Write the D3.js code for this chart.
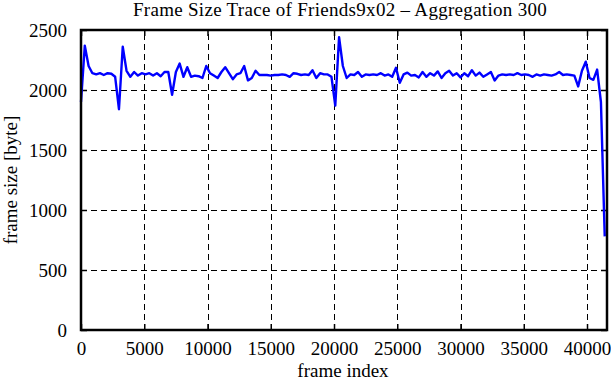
<!DOCTYPE html>
<html>
<head>
<meta charset="utf-8">
<script src="https://cdn.jsdelivr.net/npm/d3@7"></script>
<style>
  html, body { margin: 0; padding: 0; background: #fff; }
  svg { display: block; }
  text { font-family: "Liberation Serif", "Times New Roman", serif; fill: #000; }
</style>
</head>
<body>
<svg id="chart" width="611" height="380"></svg>
<script>
// ---- data ----
const titleText = "Frame Size Trace of Friends9x02 \u2013 Aggregation 300";
const xLabel = "frame index";
const yLabel = "frame size [byte]";
const aggregation = 300;      // frames per point
const lastFrame = 41580;      // end of x axis
const xTicks = [0, 5000, 10000, 15000, 20000, 25000, 30000, 35000, 40000];
const yTicks = [0, 500, 1000, 1500, 2000, 2500];
const frameSizes = [
  1900, 2370, 2200, 2140, 2130, 2140, 2125, 2140, 2135, 2110,
  1840, 2360, 2160, 2110, 2150, 2120, 2140, 2130, 2140, 2120,
  2140, 2115, 2150, 2150, 1960, 2150, 2220, 2110, 2190, 2110,
  2120, 2115, 2100, 2200, 2140, 2120, 2100, 2150, 2190, 2140,
  2090, 2130, 2140, 2200, 2080, 2100, 2160, 2125, 2125, 2125,
  2120, 2125, 2125, 2130, 2125, 2110, 2140, 2135, 2125, 2130,
  2125, 2165, 2100, 2140, 2130, 2130, 2110, 1870, 2440, 2200,
  2100, 2130, 2125, 2150, 2110, 2130, 2125, 2130, 2125, 2140,
  2120, 2130, 2110, 2185, 2060, 2130, 2145, 2120, 2125, 2105,
  2150, 2110, 2140, 2120, 2155, 2100, 2140, 2160, 2120, 2140,
  2105, 2140, 2115, 2165, 2120, 2145, 2110, 2130, 2150, 2080,
  2120, 2130, 2125, 2130, 2125, 2140, 2125, 2130, 2125, 2110,
  2130, 2120, 2130, 2125, 2120, 2130, 2150, 2125, 2130, 2125,
  2120, 2030, 2160, 2236, 2100, 2085, 2170, 1900, 780
];

// ---- layout ----
const svg = d3.select("#chart");
const margin = { left: 81, right: 4, top: 30, bottom: 50 };
const W = 611, H = 380;
const x = d3.scaleLinear().domain([0, lastFrame]).range([margin.left, W - margin.right]);
const y = d3.scaleLinear().domain([0, 2500]).range([H - margin.bottom, margin.top]);
const fontSize = 19;

// grid
const grid = svg.append("g").attr("stroke", "#000").attr("stroke-width", 1).attr("stroke-dasharray", "6,4");
grid.selectAll("line.gx").data(xTicks.filter(t => t > 0)).enter().append("line")
  .attr("x1", d => Math.round(x(d)) + 0.5).attr("x2", d => Math.round(x(d)) + 0.5)
  .attr("y1", y(0)).attr("y2", y(2500));
grid.selectAll("line.gy").data(yTicks.filter(t => t > 0 && t < 2500)).enter().append("line")
  .attr("y1", d => Math.round(y(d)) + 0.5).attr("y2", d => Math.round(y(d)) + 0.5)
  .attr("x1", x(0)).attr("x2", x(lastFrame));

// axes (ticks inward, mirrored)
const tl = 6;
const axB = svg.append("g").attr("transform", `translate(0,${y(0)})`)
  .call(d3.axisBottom(x).tickValues(xTicks).tickSize(-tl).tickPadding(12).tickFormat(d3.format("d")));
const axT = svg.append("g").attr("transform", `translate(0,${y(2500)})`)
  .call(d3.axisTop(x).tickValues(xTicks).tickSize(-tl).tickFormat(""));
const axL = svg.append("g").attr("transform", `translate(${x(0)},0)`)
  .call(d3.axisLeft(y).tickValues(yTicks).tickSize(-tl).tickPadding(14).tickFormat(d3.format("d")));
const axR = svg.append("g").attr("transform", `translate(${x(lastFrame)},0)`)
  .call(d3.axisRight(y).tickValues(yTicks).tickSize(-tl).tickFormat(""));
[axB, axT, axL, axR].forEach(a => {
  a.select(".domain").remove();
  a.selectAll(".tick line").attr("stroke", "#000").attr("stroke-width", 1.5);
  a.selectAll("text").style("font-family", '"Liberation Serif", serif').style("font-size", fontSize + "px").attr("fill", "#000");
});

// line
const line = d3.line().x((d, i) => x(i * aggregation)).y(d => y(d));
svg.append("path").datum(frameSizes).attr("d", line)
  .attr("fill", "none").attr("stroke", "#0000ff").attr("stroke-width", 2.4).attr("stroke-linejoin", "round");

// frame
svg.append("rect").attr("x", x(0)).attr("y", y(2500)).attr("width", x(lastFrame) - x(0)).attr("height", y(0) - y(2500))
  .attr("fill", "none").attr("stroke", "#000").attr("stroke-width", 2.5);

// labels
svg.append("text").attr("x", 340).attr("y", 16).attr("text-anchor", "middle")
  .style("font-size", "19px").style("letter-spacing", "0.3px").text(titleText);
svg.append("text").attr("x", 343).attr("y", 377).attr("text-anchor", "middle").style("font-size", fontSize + "px").text(xLabel);
svg.append("text").attr("transform", `translate(17,${(y(0) + y(2500)) / 2}) rotate(-90)`)
  .attr("text-anchor", "middle").style("font-size", fontSize + "px").text(yLabel);
</script>
</body>
</html>
